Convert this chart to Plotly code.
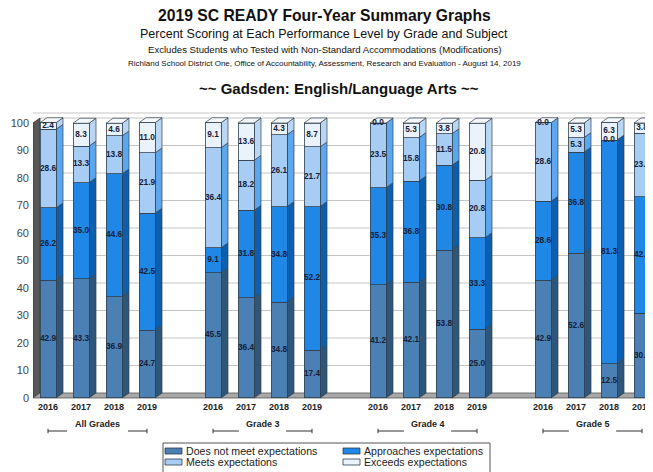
import plotly.graph_objects as go

# ---------------- data ----------------
groups = ["All Grades", "Grade 3", "Grade 4", "Grade 5"]
years = ["2016", "2017", "2018", "2019"]
levels = ["Does not meet expectations", "Approaches expectations",
          "Meets expectations", "Exceeds expectations"]

does_not_meet = [42.9, 43.3, 36.9, 24.7,   45.5, 36.4, 34.8, 17.4,
                 41.2, 42.1, 53.8, 25.0,   42.9, 52.6, 12.5, 30.8]
approaches = [26.2, 35.0, 44.6, 42.5,   9.1, 31.8, 34.8, 52.2,
              35.3, 36.8, 30.8, 33.3,   28.6, 36.8, 81.3, 42.3]
meets = [28.6, 13.3, 13.8, 21.9,   36.4, 18.2, 26.1, 21.7,
         23.5, 15.8, 11.5, 20.8,   28.6, 5.3, 0.0, 23.1]
exceeds = [2.4, 8.3, 4.6, 11.0,   9.1, 13.6, 4.3, 8.7,
           0.0, 5.3, 3.8, 20.8,   0.0, 5.3, 6.3, 3.8]

y_ticks = [0, 10, 20, 30, 40, 50, 60, 70, 80, 90, 100]

# ---------------- styling ----------------
series = [does_not_meet, approaches, meets, exceeds]
front_cols = ["#4a80b3", "#1f87e6", "#a8cdf4", "#eaf3fc"]
side_cols = ["#2e5679", "#0c5fae", "#5ca6ee", "#b9d7f4"]
top_col = "#f5f9fe"
edge = "#33414f"
FONT = "Liberation Sans, Arial, sans-serif"

# page has an 8px body margin: figure is placed at (8, 8)
OFF = 8
W, H = 653 - OFF, 472 - OFF
ML, MT = 33 - OFF, 113 - OFF
MB = H - (400 - OFF)
PW, PH = W - ML, H - MT - MB


def px(xp):  # page x (screenshot pixel) -> paper
    return (xp - OFF - ML) / PW


def py(yp):  # page y (screenshot pixel) -> paper
    return (H - MB - (yp - OFF)) / PH


# slot positions: 4 bars per group, one empty slot between groups
slots = []
for g in range(len(groups)):
    for k in range(len(years)):
        slots.append(g * 5 + k)
xlabels = [years[k] for g in range(len(groups)) for k in range(len(years))]

BW = 0.485          # bar width (slots)
DX = 0.212          # depth, x (slots)
DY = 1.82           # depth, y (value units)
X0, XR = -0.4545, 18.333
Y0, YT = -0.73, 103.64

fig = go.Figure()
shapes = []

# back wall gridlines
for v in y_ticks[1:]:
    shapes.append(dict(type="line", xref="x", yref="y", x0=X0 + DX, x1=XR,
                       y0=v + DY, y1=v + DY, line=dict(color="#c4c4c4", width=1),
                       layer="below"))
shapes.append(dict(type="line", xref="paper", yref="paper", x0=0, x1=1, y0=1, y1=1,
                   line=dict(color="#c4c4c4", width=1), layer="below"))
# left wall
shapes.append(dict(type="path", xref="x", yref="y",
                   path=f"M{X0},{0} L{X0},{100} L{X0+DX},{100+DY} L{X0+DX},{DY} Z",
                   fillcolor="#585858", line=dict(color="#333333", width=0.8), layer="below"))
# floor
shapes.append(dict(type="path", xref="x", yref="y",
                   path=f"M{X0},{0} L{XR},{0} L{XR},{DY} L{X0+DX},{DY} Z",
                   fillcolor="#a8a8a8", line=dict(color="#555555", width=0.8), layer="below"))

# bars: front faces via bar traces, sides/tops via shapes derived from data
for i, (vals, name) in enumerate(zip(series, levels)):
    fig.add_trace(go.Bar(x=slots, y=vals, name=name, width=BW,
                         marker=dict(color=front_cols[i], line=dict(color=edge, width=0.8)),
                         hoverinfo="name+y"))

lab_x, lab_y, lab_t = [], [], []
for j, s in enumerate(slots):
    base = 0.0
    xr = s + BW / 2
    for i, vals in enumerate(series):
        v = vals[j]
        top = base + v
        if v > 0:
            shapes.append(dict(type="path", xref="x", yref="y",
                               path=f"M{xr},{base} L{xr+DX},{base+DY} L{xr+DX},{top+DY} L{xr},{top} Z",
                               fillcolor=side_cols[i], line=dict(color=edge, width=0.7),
                               layer="below"))
        lab_x.append(s)
        lab_y.append(base + v / 2)
        lab_t.append(f"{v:.1f}")
        base = top
    xl = s - BW / 2
    shapes.append(dict(type="path", xref="x", yref="y",
                       path=f"M{xl},{base} L{xr},{base} L{xr+DX},{base+DY} L{xl+DX},{base+DY} Z",
                       fillcolor=top_col, line=dict(color=edge, width=0.7), layer="below"))

fig.add_trace(go.Scatter(x=lab_x, y=lab_y, text=lab_t, mode="text", hoverinfo="skip",
                         texttemplate="<b>%{text}</b>",
                         textfont=dict(family=FONT, size=8.3, color="#17213a"),
                         showlegend=False, cliponaxis=False))

# group labels with brackets
ann = []
PXS = 33.0  # px per slot
yb = py(431)
for g, name in enumerate(groups):
    a, b = g * 5, g * 5 + 3
    c = (a + b) / 2
    half = (len(name) * 2.3 + 7.5) / PXS
    for (p, q) in [(a, c - half), (c + half, b)]:
        shapes.append(dict(type="line", xref="x", yref="paper", x0=p, x1=q, y0=yb, y1=yb,
                           line=dict(color="#333333", width=1)))
    for p in (a, b):
        shapes.append(dict(type="line", xref="x", yref="paper", x0=p, x1=p,
                           y0=yb - 0.008, y1=yb + 0.008, line=dict(color="#333333", width=1)))
    ann.append(dict(x=c, y=yb, xref="x", yref="paper", text=f"<b>{name}</b>", showarrow=False,
                    font=dict(family=FONT, size=9, color="#222222")))

# manual legend box
shapes.append(dict(type="rect", xref="paper", yref="paper", x0=px(163), x1=px(490),
                   y0=py(478), y1=py(443), line=dict(color="#555555", width=1),
                   fillcolor="rgba(0,0,0,0)"))
leg_pos = [(165, 451), (343, 451), (165, 462), (343, 462)]
for i, name in enumerate(levels):
    lx, ly = leg_pos[i]
    shapes.append(dict(type="rect", xref="paper", yref="paper", x0=px(lx), x1=px(lx + 17),
                       y0=py(ly + 3), y1=py(ly - 3), fillcolor=front_cols[i],
                       line=dict(color="#2f3d4c", width=0.8)))
    ann.append(dict(x=px(lx + 19), y=py(ly), xref="paper", yref="paper", text=name,
                    xanchor="left", yanchor="middle", showarrow=False,
                    font=dict(family=FONT, size=10.6, color="#222222")))

# titles (page-pixel centre positions)
titles = [
    ("<b>2019 SC READY Four-Year Summary Graphs</b>", 324, 16, 15.7),
    ("Percent Scoring at Each Performance Level by Grade and Subject", 324, 34, 12.5),
    ("Excludes Students who Tested with Non-Standard Accommodations (Modifications)", 324, 49, 9.6),
    ("Richland School District One, Office of Accountability, Assessment, Research and Evaluation - August 14, 2019", 324, 63, 8),
    ("<b>~~ Gadsden: English/Language Arts ~~</b>", 339, 88, 15),
]
for t, xp, yp, sz in titles:
    ann.append(dict(x=px(xp), y=py(yp), xref="paper", yref="paper", text=t, showarrow=False,
                    font=dict(family=FONT, size=sz, color="#111111"),
                    xanchor="center", yanchor="middle"))

fig.update_layout(
    width=W, height=H, barmode="stack", showlegend=False,
    margin=dict(l=ML, r=0, t=MT, b=MB, pad=0),
    plot_bgcolor="white", paper_bgcolor="white",
    font=dict(family=FONT, color="#222222"),
    shapes=shapes, annotations=ann,
    xaxis=dict(range=[X0, XR], tickvals=slots, ticktext=[f"<b>{t}</b>" for t in xlabels],
               showgrid=False, zeroline=False, showline=False, ticks="",
               tickfont=dict(family=FONT, size=9, color="#222222"), fixedrange=True),
    yaxis=dict(range=[Y0, YT], tickvals=y_ticks, showgrid=False, zeroline=False,
               showline=False, ticks="", ticklabelstandoff=3,
               tickfont=dict(family=FONT, size=11, color="#444444"), fixedrange=True),
)

fig.write_html("out.html")
